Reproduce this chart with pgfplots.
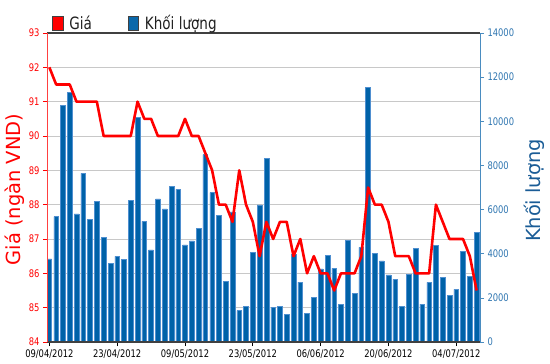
\documentclass[border=0pt]{standalone}
\usepackage{fontspec}
\setmainfont{DejaVu Sans}
\newfontfamily\cond{DejaVu Sans}[FakeStretch=0.8]
\usepackage{pgfplots}
\usepackage{pgfplotstable}
\pgfplotsset{compat=1.18}
\usetikzlibrary{calc}
\definecolor{barblue}{HTML}{0062A8}
\definecolor{baredge}{HTML}{4F8FD0}
\definecolor{legblue}{HTML}{0A68AA}
\definecolor{raxis}{HTML}{4A8CC0}
\definecolor{rtick}{HTML}{2E75B0}
\definecolor{rlabel}{HTML}{1A5C96}
\definecolor{gridgray}{HTML}{C8C8C8}
\definecolor{framegray}{HTML}{404040}
\definecolor{legtext}{HTML}{202020}

\pgfplotstableread{
x vol price
0 3770 92.0
1 5680 91.5
2 10720 91.5
3 11300 91.5
4 5800 91.0
5 7640 91.0
6 5570 91.0
7 6360 91.0
8 4740 90.0
9 3550 90.0
10 3880 90.0
11 3730 90.0
12 6420 90.0
13 10180 91.0
14 5470 90.5
15 4170 90.5
16 6480 90.0
17 6030 90.0
18 7050 90.0
19 6920 90.0
20 4400 90.5
21 4580 90.0
22 5140 90.0
23 8490 89.5
24 6770 89.0
25 5740 88.0
26 2760 88.0
27 5890 87.5
28 1420 89.0
29 1610 88.0
30 4060 87.5
31 6210 86.5
32 8320 87.5
33 1560 87.0
34 1600 87.5
35 1250 87.5
36 3960 86.5
37 2710 87.0
38 1310 86.0
39 2010 86.5
40 3310 86.0
41 3940 86.0
42 3340 85.5
43 1720 86.0
44 4620 86.0
45 2220 86.0
46 4290 86.5
47 11520 88.5
48 4000 88.0
49 3680 88.0
50 3040 87.5
51 2840 86.5
52 1600 86.5
53 3050 86.5
54 4230 86.0
55 1720 86.0
56 2700 86.0
57 4370 88.0
58 2930 87.5
59 2100 87.0
60 2380 87.0
61 4110 87.0
62 2990 86.5
63 4980 85.5
}\datatable

\begin{document}
\begin{tikzpicture}
\begin{axis}[name=vol,
  scale only axis, width=433bp, height=309bp,
  xmin=-0.35, xmax=63.5, ymin=0, ymax=14000,
  axis x line=none, axis y line*=right,
  y axis line style={draw=raxis, line width=0.8bp},
  ybar, bar width=0.7,
  ytick={0,2000,4000,6000,8000,10000,12000,14000},
  scaled y ticks=false,
  /pgf/number format/assume math mode=true,
  /pgf/number format/1000 sep={},
  yticklabel style={font=\cond\fontsize{10.5}{12}\selectfont, text=rtick},
  tick align=outside, major tick length=4bp,
  ytick style={draw=raxis, line width=0.7bp},
  extra y ticks={1555.56,3111.11,4666.67,6222.22,7777.78,9333.33,10888.89,12444.44},
  extra y tick style={grid=major, major tick length=0pt, yticklabel={}},
  grid style={draw=gridgray, line width=0.9bp},
  ylabel={Khối lượng},
  ylabel style={at={(axis description cs:1.1386,0.49)}, anchor=base, font=\fontsize{19.5}{22}\selectfont, text=rlabel},
]
\addplot[fill=barblue, draw=baredge, line width=0.5bp] table[x=x, y=vol] {\datatable};
\end{axis}
\begin{axis}[name=price,
  scale only axis, width=433bp, height=309bp,
  xmin=-0.35, xmax=63.5, ymin=84, ymax=93,
  axis x line=box, axis y line*=left,
  x axis line style={draw=framegray, line width=1.3bp},
  y axis line style={draw=red!75, line width=0.8bp},
  xtick={0,10,20,30,40,50,60},
  xticklabels={09/04/2012,23/04/2012,09/05/2012,23/05/2012,06/06/2012,20/06/2012,04/07/2012},
  xtick pos=left,
  ytick={84,85,86,87,88,89,90,91,92,93},
  /pgf/number format/assume math mode=true,
  tick align=outside, major tick length=4bp,
  xtick style={draw=black, line width=0.7bp},
  ytick style={draw=red, line width=0.7bp},
  xticklabel style={font=\cond\fontsize{10.5}{12}\selectfont, text=black},
  yticklabel style={font=\cond\fontsize{10.5}{12}\selectfont, text=red},
  ylabel={Giá (ngàn VND)},
  ylabel style={at={(axis description cs:-0.0607,0.4935)}, anchor=base, font=\fontsize{19.5}{22}\selectfont, text=red},
  legend image code/.code={\draw[#1] (0bp,-7bp) rectangle (10.5bp,7bp);},
  legend style={at={(0,1)}, anchor=west, xshift=5bp, yshift=10bp, draw=none, fill=none,
    inner sep=0pt, font=\cond\fontsize{17}{19}\selectfont, text=legtext,
    /tikz/every even column/.append style={column sep=34bp}},
  legend columns=2,
]
\addlegendimage{fill=red, draw=black!75, line width=0.6bp}
\addlegendentry{\hspace{4bp}Giá}
\addlegendimage{fill=legblue, draw=black!75, line width=0.6bp}
\addlegendentry{\hspace{4bp}Khối lượng}
\addplot[forget plot, draw=red, line width=2.6bp, line join=round] table[x=x, y=price] {\datatable};
\end{axis}
\pgfresetboundingbox
\path ($(price.south west)+(-47bp,-22bp)$) rectangle ($(price.south west)+(503bp,342bp)$);
\end{tikzpicture}
\end{document}
